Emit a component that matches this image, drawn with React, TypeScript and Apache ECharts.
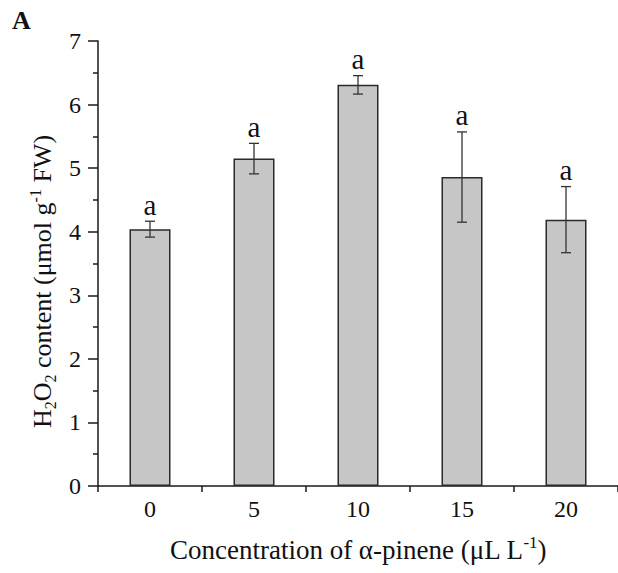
import React, { useEffect, useRef } from "react";
import * as echarts from "echarts";

const categories = ["0", "5", "10", "15", "20"];
const means = [4.04, 5.15, 6.31, 4.86, 4.19];
const errors = [0.125, 0.24, 0.145, 0.71, 0.52];
const letters = ["a", "a", "a", "a", "a"];
const yMin = 0;
const yMax = 7;
const yInterval = 1;

const FONT = '"Liberation Serif", "Times New Roman", serif';
const INK = "#111111";
const AXIS = "#1a1a1a";

export default function App() {
  const ref = useRef<HTMLDivElement>(null);
  useEffect(() => {
    if (!ref.current) return;
    const chart = echarts.init(ref.current, undefined, { renderer: "svg" });
    const richFor = (size: number, sub: number, lh: number) => ({
      n: { fontFamily: FONT, fontSize: size, color: INK, lineHeight: lh, verticalAlign: "middle" },
      s: { fontFamily: FONT, fontSize: sub, color: INK, lineHeight: sub, verticalAlign: "bottom" },
      p: { fontFamily: FONT, fontSize: sub, color: INK, lineHeight: sub, verticalAlign: "top" },
    });
    chart.setOption({
      animation: false,
      backgroundColor: "#ffffff",
      grid: { left: 98, right: 0, top: 41, bottom: 87, containLabel: false },
      graphic: [
        {
          type: "text",
          left: 12,
          top: 7,
          style: { text: "A", font: `bold 26px ${FONT}`, fill: INK },
        },
      ],
      xAxis: {
        type: "category",
        data: categories,
        boundaryGap: true,
        axisLine: { show: true, lineStyle: { color: AXIS, width: 1.5 } },
        axisTick: { show: true, alignWithLabel: false, length: 6, inside: false, lineStyle: { color: AXIS, width: 1.5 } },
        axisLabel: { fontFamily: FONT, fontSize: 24, color: INK, margin: 11 },
        name: "{n|Concentration of α-pinene (μL L}{p|-1}{n|)}",
        nameLocation: "middle",
        nameGap: 48,
        nameTextStyle: { fontFamily: FONT, fontSize: 27, color: INK, rich: richFor(27, 17, 32) },
        splitLine: { show: false },
      },
      yAxis: {
        type: "value",
        min: yMin,
        max: yMax,
        interval: yInterval,
        axisLine: { show: true, lineStyle: { color: AXIS, width: 1.5 } },
        axisTick: { show: true, length: 10, inside: false, lineStyle: { color: AXIS, width: 1.5 } },
        minorTick: { show: true, splitNumber: 2, length: 5, lineStyle: { color: AXIS, width: 1.5 } },
        axisLabel: { fontFamily: FONT, fontSize: 24, color: INK, margin: 17 },
        splitLine: { show: false },
        name: "{n|H}{s|2}{n|O}{s|2}{n| content (μmol g}{p|-1}{n| FW)}",
        nameLocation: "middle",
        nameRotate: 90,
        nameGap: 35,
        nameTextStyle: {
          fontFamily: FONT,
          fontSize: 26,
          color: INK,
          padding: [0, 36, 0, 0],
          rich: richFor(26, 16, 31),
        },
      },
      series: [
        {
          type: "bar",
          data: means,
          barWidth: 41,
          itemStyle: { color: "#c6c6c6", borderColor: "#2a2a2a", borderWidth: 1.5 },
          z: 2,
        },
        {
          type: "custom",
          data: categories.map((c, i) => [i, means[i], errors[i]]),
          encode: { x: 0, y: 1 },
          z: 3,
          renderItem: (params: any, api: any) => {
            const i = api.value(0);
            const m = api.value(1);
            const e = api.value(2);
            const top = api.coord([i, m + e]);
            const bot = api.coord([i, m - e]);
            const hw = 5;
            const ls = { stroke: "#333333", lineWidth: 1.3 };
            return {
              type: "group",
              children: [
                { type: "line", shape: { x1: top[0], y1: top[1], x2: bot[0], y2: bot[1] }, style: ls },
                { type: "line", shape: { x1: top[0] - hw, y1: top[1], x2: top[0] + hw, y2: top[1] }, style: ls },
                { type: "line", shape: { x1: bot[0] - hw, y1: bot[1], x2: bot[0] + hw, y2: bot[1] }, style: ls },
                {
                  type: "text",
                  x: top[0],
                  y: top[1] - 2,
                  style: {
                    text: letters[params.dataIndex],
                    font: `29px ${FONT}`,
                    fill: INK,
                    align: "center",
                    verticalAlign: "bottom",
                  },
                },
              ],
            };
          },
        },
      ],
    });
    return () => chart.dispose();
  }, []);
  return (
    <div
      ref={ref}
      style={{ position: "fixed", left: 0, top: 0, width: 618, height: 573, background: "#fff" }}
    />
  );
}
